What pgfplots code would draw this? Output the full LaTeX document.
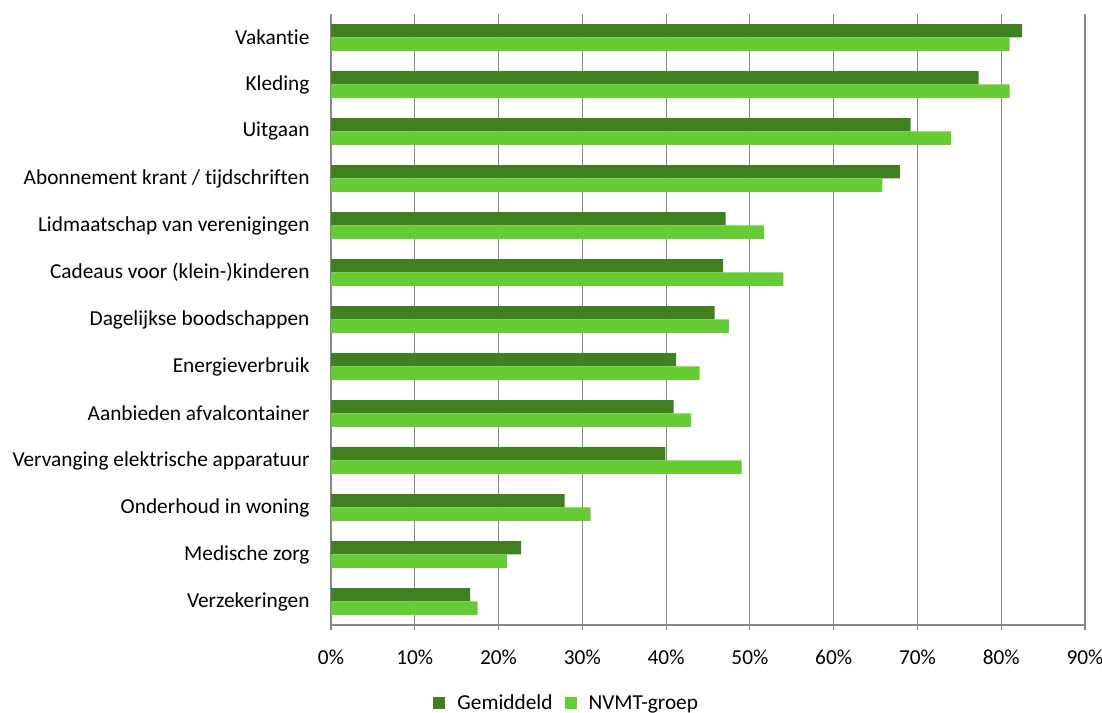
\documentclass[border=0pt]{standalone}
\usepackage{pgfplots}
\pgfplotsset{compat=1.18}
\usepackage{fontspec}
\setmainfont[Ligatures={NoCommon},RawFeature={-liga;-dlig;-clig}]{Carlito}
\definecolor{darkg}{HTML}{408020}
\definecolor{lightg}{HTML}{66CC33}
\definecolor{gridg}{HTML}{888888}
\begin{document}
\begin{tikzpicture}
\path[use as bounding box] (0,0) rectangle (1102bp,713bp);
\begin{axis}[
  at={(331bp,88bp)}, anchor=south west,
  scale only axis, width=754bp, height=611bp,
  xbar, bar width=13.3bp,
  xmin=0, xmax=90, ymin=-0.5, ymax=12.5,
  axis lines*=left,
  axis line style={gridg, line width=1.2bp},
  xtick={0,10,...,90},
  xticklabels={0\%,10\%,20\%,30\%,40\%,50\%,60\%,70\%,80\%,90\%},
  xmajorgrids, grid style={gridg, line width=1.2bp},
  tick align=outside,
  xtick style={gridg, line width=1.2bp},
  major tick length=5bp,
  ytick={0,...,12},
  yticklabels={Verzekeringen,Medische zorg,Onderhoud in woning,Vervanging elektrische apparatuur,Aanbieden afvalcontainer,Energieverbruik,Dagelijkse boodschappen,Cadeaus voor (klein-)kinderen,Lidmaatschap van verenigingen,Abonnement krant / tijdschriften,Uitgaan,Kleding,Vakantie},
  ytick style={draw=none},
  minor ytick={-0.5,0.5,...,12.5},
  minor tick length=5bp,
  minor tick style={gridg, line width=1.2bp},
  tick label style={font=\fontsize{21.4}{25}\selectfont, black},
  yticklabel style={xshift=-13bp},
  xticklabel style={yshift=-16bp},
  legend style={at={(0.312,-0.128)}, anchor=center, draw=none, legend columns=2,
    font=\fontsize{21.4}{25}\selectfont, column sep=11bp, inner sep=0pt,
    nodes={inner xsep=1bp, inner ysep=2bp}},
  legend image code/.code={\fill[#1] (0bp,-6bp) rectangle (12bp,6bp);},
  clip=false,
]
\addplot[fill=darkg, draw=none, bar shift=6.65bp] coordinates {
(16.6,0) (22.7,1) (27.9,2) (39.9,3) (40.9,4) (41.2,5) (45.8,6) (46.8,7) (47.1,8) (67.9,9) (69.2,10) (77.3,11) (82.5,12)};
\addplot[fill=lightg, draw=none, bar shift=-6.65bp] coordinates {
(17.5,0) (21.0,1) (31.0,2) (49.0,3) (43.0,4) (44.0,5) (47.5,6) (54.0,7) (51.7,8) (65.8,9) (74.0,10) (81.0,11) (81.0,12)};
\legend{Gemiddeld, NVMT-groep}
\end{axis}
\end{tikzpicture}
\end{document}
